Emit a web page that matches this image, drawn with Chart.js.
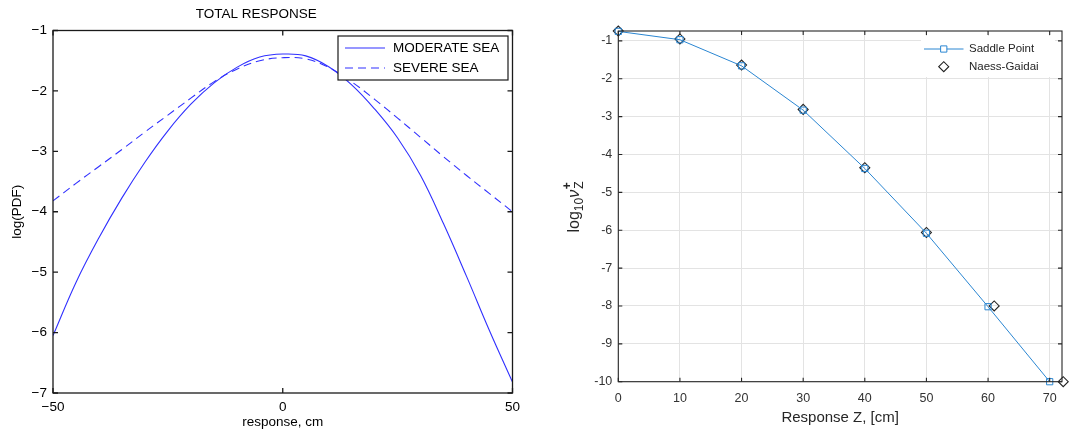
<!DOCTYPE html>
<html>
<head>
<meta charset="utf-8">
<script src="https://cdn.jsdelivr.net/npm/chart.js@4.4.1/dist/chart.umd.min.js"></script>
<style>
  html, body { margin: 0; padding: 0; background: #fff; }
  #wrap { position: relative; width: 1075px; height: 430px; }
  #left { position: absolute; left: 0; top: 0; }
  #right { position: absolute; left: 540px; top: 0; }
</style>
</head>
<body>
<div id="wrap">
  <canvas id="left" width="540" height="430"></canvas>
  <canvas id="right" width="535" height="430"></canvas>
</div>
<script>
  // left panel: total response log(PDF)
  const respX = [-50, -45, -40, -35, -30, -25, -20, -15, -10, -5, 0, 5, 10, 15, 20, 25, 30, 35, 40, 45, 50];
  const moderateSea = [-6.05, -5.17, -4.43, -3.77, -3.18, -2.66, -2.22, -1.87, -1.61, -1.44, -1.39, -1.42, -1.6, -1.9, -2.3, -2.78, -3.4, -4.2, -5.07, -5.97, -6.82];
  const severeSea = [-3.82, -3.53, -3.25, -2.97, -2.68, -2.4, -2.12, -1.85, -1.64, -1.5, -1.45, -1.47, -1.61, -1.85, -2.14, -2.45, -2.77, -3.09, -3.4, -3.7, -4.0];
  const leftXTicks = [-50, 0, 50];

  // right panel: log10 upcrossing rate
  const zCm = [0, 10, 20, 30, 40, 50, 60, 70];
  const saddlePoint = [-0.75, -0.97, -1.66, -2.83, -4.37, -6.08, -8.02, -10.0];
  const naessZ = [0, 10, 20, 30, 40, 50, 61, 72.2];
  const naessGaidai = [-0.74, -0.95, -1.64, -2.81, -4.35, -6.06, -8.0, -10.0];

  Chart.defaults.font.family = '"Liberation Sans", Arial, Helvetica, sans-serif';
  Chart.defaults.animation = false;

  const minus = v => (v < 0 ? '\u2212' + Math.abs(v) : String(v));

  // box round the plot with inward tick marks, matlab style
  const boxTicks = {
    id: 'boxTicks',
    afterDatasetsDraw(chart, args, o) {
      const {ctx, chartArea: a, scales: {x, y}} = chart;
      const L = o.len;
      ctx.save();
      ctx.strokeStyle = o.color;
      ctx.lineWidth = o.width;
      ctx.beginPath();
      x.ticks.forEach(t => {
        const px = x.getPixelForValue(t.value);
        ctx.moveTo(px, a.bottom); ctx.lineTo(px, a.bottom - L);
        ctx.moveTo(px, a.top); ctx.lineTo(px, a.top + L);
      });
      y.ticks.forEach(t => {
        const py = y.getPixelForValue(t.value);
        ctx.moveTo(a.left, py); ctx.lineTo(a.left + L, py);
        ctx.moveTo(a.right, py); ctx.lineTo(a.right - L, py);
      });
      ctx.stroke();
      ctx.strokeRect(a.left, a.top, a.right - a.left, a.bottom - a.top);
      ctx.restore();
    }
  };

  // legend drawn inside the plot, top right corner
  const boxLegend = {
    id: 'boxLegend',
    afterDraw(chart, args, o) {
      const {ctx, chartArea: a} = chart;
      const x1 = a.right - o.right, x0 = x1 - o.w;
      const y0 = a.top + o.top;
      ctx.save();
      ctx.fillStyle = '#fff';
      ctx.fillRect(x0, y0, o.w, o.h);
      if (o.border) {
        ctx.strokeStyle = o.border;
        ctx.lineWidth = 1.2;
        ctx.strokeRect(x0, y0, o.w, o.h);
      }
      ctx.font = o.fontSize + 'px ' + Chart.defaults.font.family;
      ctx.textBaseline = 'middle';
      chart.data.datasets.forEach((ds, i) => {
        const cy = y0 + o.row0 + i * o.rowGap;
        const lx0 = x0 + o.lineX0, lx1 = lx0 + o.lineLen;
        if (ds.showLine !== false) {
          ctx.strokeStyle = ds.borderColor;
          ctx.lineWidth = ds.borderWidth;
          ctx.setLineDash(ds.borderDash || []);
          ctx.beginPath();
          ctx.moveTo(lx0, cy); ctx.lineTo(lx1, cy);
          ctx.stroke();
          ctx.setLineDash([]);
        }
        if (ds.pointRadius > 0) {
          ctx.fillStyle = '#fff';
          ctx.strokeStyle = ds.pointBorderColor;
          ctx.lineWidth = ds.pointBorderWidth || 1;
          Chart.helpers.drawPoint(ctx, {
            pointStyle: ds.pointStyle, radius: ds.pointRadius,
            borderWidth: ds.pointBorderWidth || 1
          }, (lx0 + lx1) / 2, cy);
        }
        ctx.fillStyle = o.textColor;
        ctx.fillText(ds.label, x0 + o.textX, cy);
      });
      ctx.restore();
    }
  };

  new Chart(document.getElementById('left'), {
    type: 'line',
    data: {
      datasets: [{
        label: 'MODERATE SEA',
        data: respX.map((x, i) => ({x: x, y: moderateSea[i]})),
        borderColor: '#3030ff', borderWidth: 1.1,
        pointRadius: 0, tension: 0.4
      }, {
        label: 'SEVERE SEA',
        data: respX.map((x, i) => ({x: x, y: severeSea[i]})),
        borderColor: '#3030ff', borderWidth: 1.1, borderDash: [8, 5],
        pointRadius: 0, tension: 0.4
      }]
    },
    options: {
      responsive: false,
      layout: { padding: { left: 0, right: 27.5, top: 0, bottom: 0 } },
      plugins: {
        legend: { display: false },
        tooltip: { enabled: false },
        title: {
          display: true, text: 'TOTAL RESPONSE', color: '#000',
          font: { size: 13.5, weight: 'normal' },
          padding: { top: 6, bottom: 8.3 }
        },
        boxTicks: { color: '#1a1a1a', width: 1.3, len: 5 },
        boxLegend: {
          right: 4.5, top: 5.5, w: 170, h: 44, border: '#1a1a1a',
          row0: 12, rowGap: 20, lineX0: 7, lineLen: 40, textX: 55,
          fontSize: 13.5, textColor: '#000'
        }
      },
      scales: {
        x: {
          type: 'linear', min: -50, max: 50,
          afterBuildTicks: s => { s.ticks = leftXTicks.map(v => ({value: v})); },
          afterFit: s => { s.height = 37; },
          grid: { display: false, drawTicks: false },
          border: { display: false },
          ticks: { color: '#000', font: { size: 13.5 }, padding: 6, maxRotation: 0, callback: minus },
          title: { display: true, text: 'response, cm', color: '#000', font: { size: 13.5 }, padding: { top: 0, bottom: 0 } }
        },
        y: {
          type: 'linear', min: -7, max: -1,
          afterFit: s => { s.width = 53; },
          grid: { display: false, drawTicks: false },
          border: { display: false },
          ticks: { stepSize: 1, color: '#000', font: { size: 13.5 }, padding: 6, callback: minus },
          title: { display: true, text: 'log(PDF)', color: '#000', font: { size: 13.5 }, padding: { top: 9, bottom: 0 } }
        }
      }
    },
    plugins: [boxTicks, boxLegend]
  });

  // y axis title with sub and superscripts
  const nuLabel = {
    id: 'nuLabel',
    afterDraw(chart) {
      const {ctx} = chart;
      const fam = Chart.defaults.font.family;
      const big = '16px ' + fam, small = '12px ' + fam;
      const parts = [
        {t: 'log', f: big, dy: 0},
        {t: '10', f: small, dy: 4},
        {t: '\u03bd', f: 'italic ' + big, dy: 0},
      ];
      ctx.save();
      ctx.fillStyle = '#262626';
      ctx.textBaseline = 'alphabetic';
      let w = 0;
      parts.forEach(p => { ctx.font = p.f; p.w = ctx.measureText(p.t).width; w += p.w; });
      ctx.font = small;
      const zw = ctx.measureText('Z').width;
      w += zw + 1;
      ctx.translate(39, 207);
      ctx.rotate(-Math.PI / 2);
      let x = -w / 2;
      parts.forEach(p => { ctx.font = p.f; ctx.fillText(p.t, x, p.dy); x += p.w; });
      ctx.font = 'bold ' + small;
      ctx.fillText('+', x + 0.5, -8);
      ctx.font = small;
      ctx.fillText('Z', x + 1, 4);
      ctx.restore();
    }
  };

  new Chart(document.getElementById('right'), {
    type: 'line',
    data: {
      datasets: [{
        label: 'Saddle Point',
        data: zCm.map((x, i) => ({x: x, y: saddlePoint[i]})),
        borderColor: '#2a86d2', borderWidth: 1,
        pointStyle: 'rect', pointRadius: 4.4, pointBorderWidth: 1,
        pointBorderColor: '#2a86d2', pointBackgroundColor: 'rgba(0,0,0,0)',
        tension: 0, clip: false
      }, {
        label: 'Naess-Gaidai',
        data: naessZ.map((x, i) => ({x: x, y: naessGaidai[i]})),
        showLine: false, borderColor: '#222',
        pointStyle: 'rectRot', pointRadius: 5, pointBorderWidth: 1.1,
        pointBorderColor: '#222', pointBackgroundColor: 'rgba(0,0,0,0)',
        clip: false
      }]
    },
    options: {
      responsive: false,
      layout: { padding: { left: 0, right: 13, top: 31, bottom: 0 } },
      plugins: {
        legend: { display: false },
        tooltip: { enabled: false },
        boxTicks: { color: '#262626', width: 1.1, len: 4 },
        boxLegend: {
          right: 7, top: 5, w: 134, h: 41, border: null,
          row0: 13, rowGap: 17.7, lineX0: 3, lineLen: 39.5, textX: 48,
          fontSize: 11.5, textColor: '#262626'
        }
      },
      scales: {
        x: {
          type: 'linear', min: 0, max: 72,
          afterFit: s => { s.height = 48.3; },
          grid: { color: '#e3e3e3', drawTicks: false },
          border: { display: false },
          ticks: { stepSize: 10, includeBounds: false, color: '#333', font: { size: 12.5 }, padding: 9, maxRotation: 0 },
          title: { display: true, text: 'Response Z, [cm]', color: '#262626', font: { size: 15 }, padding: { top: 0, bottom: 3 } }
        },
        y: {
          type: 'linear', min: -10, max: -0.74,
          afterFit: s => { s.width = 78.3; },
          grid: { color: '#e3e3e3', drawTicks: false },
          border: { display: false },
          ticks: { stepSize: 1, includeBounds: false, color: '#333', font: { size: 12.5 }, padding: 6 }
        }
      }
    },
    plugins: [boxTicks, boxLegend, nuLabel]
  });
</script>
</body>
</html>
